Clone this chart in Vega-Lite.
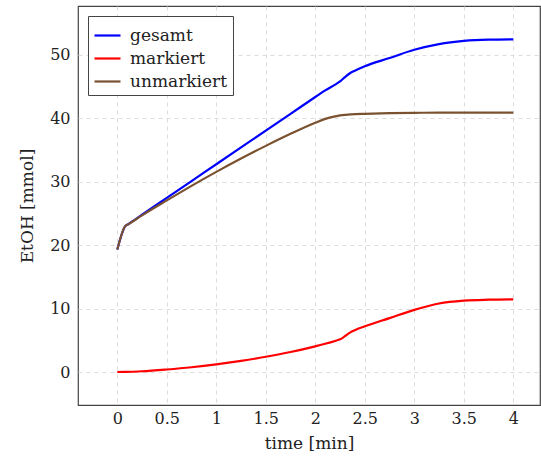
{
  "$schema": "https://vega.github.io/schema/vega-lite/v6.json",
  "width": 462,
  "height": 399,
  "autosize": "none",
  "padding": {"left": 78, "top": 6, "right": 1, "bottom": 57},
  "background": "white",
  "config": {
    "font": "DejaVu Serif",
    "view": {"stroke": "#444", "strokeWidth": 1.2},
    "axis": {
      "domain": false,
      "ticks": false,
      "grid": true,
      "gridColor": "#dcdcdc",
      "gridDash": [4, 4],
      "gridWidth": 1,
      "labelFont": "DejaVu Serif",
      "labelFontSize": 16,
      "labelColor": "#222",
      "titleFont": "DejaVu Serif",
      "titleFontSize": 17,
      "titleFontWeight": "normal",
      "titleColor": "#222"
    }
  },
  "data": {
    "values": [
      {"t": 0, "s": "gesamt", "v": 19.3},
      {"t": 0.08, "s": "gesamt", "v": 23.0},
      {"t": 0.11, "s": "gesamt", "v": 23.3},
      {"t": 0.25, "s": "gesamt", "v": 24.8},
      {"t": 0.5, "s": "gesamt", "v": 27.45},
      {"t": 0.75, "s": "gesamt", "v": 30.1},
      {"t": 1, "s": "gesamt", "v": 32.75},
      {"t": 1.25, "s": "gesamt", "v": 35.4},
      {"t": 1.5, "s": "gesamt", "v": 38.05},
      {"t": 1.75, "s": "gesamt", "v": 40.7},
      {"t": 2, "s": "gesamt", "v": 43.35},
      {"t": 2.1, "s": "gesamt", "v": 44.4},
      {"t": 2.2, "s": "gesamt", "v": 45.3},
      {"t": 2.25, "s": "gesamt", "v": 45.8},
      {"t": 2.3, "s": "gesamt", "v": 46.5},
      {"t": 2.35, "s": "gesamt", "v": 47.1},
      {"t": 2.4, "s": "gesamt", "v": 47.5},
      {"t": 2.5, "s": "gesamt", "v": 48.2},
      {"t": 2.75, "s": "gesamt", "v": 49.5},
      {"t": 3, "s": "gesamt", "v": 50.8},
      {"t": 3.25, "s": "gesamt", "v": 51.7},
      {"t": 3.5, "s": "gesamt", "v": 52.2},
      {"t": 3.75, "s": "gesamt", "v": 52.4},
      {"t": 4, "s": "gesamt", "v": 52.45},
      {"t": 0, "s": "markiert", "v": 0},
      {"t": 0.08, "s": "markiert", "v": 0.02},
      {"t": 0.25, "s": "markiert", "v": 0.12},
      {"t": 0.5, "s": "markiert", "v": 0.4},
      {"t": 0.75, "s": "markiert", "v": 0.75},
      {"t": 1, "s": "markiert", "v": 1.2},
      {"t": 1.25, "s": "markiert", "v": 1.75},
      {"t": 1.5, "s": "markiert", "v": 2.4},
      {"t": 1.75, "s": "markiert", "v": 3.15},
      {"t": 2, "s": "markiert", "v": 4.05},
      {"t": 2.1, "s": "markiert", "v": 4.45},
      {"t": 2.2, "s": "markiert", "v": 4.9},
      {"t": 2.25, "s": "markiert", "v": 5.15},
      {"t": 2.3, "s": "markiert", "v": 5.65},
      {"t": 2.35, "s": "markiert", "v": 6.2},
      {"t": 2.4, "s": "markiert", "v": 6.6},
      {"t": 2.5, "s": "markiert", "v": 7.2},
      {"t": 2.75, "s": "markiert", "v": 8.5},
      {"t": 3, "s": "markiert", "v": 9.8},
      {"t": 3.25, "s": "markiert", "v": 10.8},
      {"t": 3.5, "s": "markiert", "v": 11.25},
      {"t": 3.75, "s": "markiert", "v": 11.4},
      {"t": 4, "s": "markiert", "v": 11.45},
      {"t": 0, "s": "unmarkiert", "v": 19.3},
      {"t": 0.08, "s": "unmarkiert", "v": 23.0},
      {"t": 0.11, "s": "unmarkiert", "v": 23.28},
      {"t": 0.25, "s": "unmarkiert", "v": 24.7},
      {"t": 0.5, "s": "unmarkiert", "v": 27.05},
      {"t": 0.75, "s": "unmarkiert", "v": 29.35},
      {"t": 1, "s": "unmarkiert", "v": 31.55},
      {"t": 1.25, "s": "unmarkiert", "v": 33.65},
      {"t": 1.5, "s": "unmarkiert", "v": 35.65},
      {"t": 1.75, "s": "unmarkiert", "v": 37.55},
      {"t": 2, "s": "unmarkiert", "v": 39.3},
      {"t": 2.1, "s": "unmarkiert", "v": 39.9},
      {"t": 2.2, "s": "unmarkiert", "v": 40.3},
      {"t": 2.25, "s": "unmarkiert", "v": 40.45},
      {"t": 2.3, "s": "unmarkiert", "v": 40.55},
      {"t": 2.35, "s": "unmarkiert", "v": 40.6},
      {"t": 2.4, "s": "unmarkiert", "v": 40.65},
      {"t": 2.5, "s": "unmarkiert", "v": 40.7},
      {"t": 2.75, "s": "unmarkiert", "v": 40.8},
      {"t": 3, "s": "unmarkiert", "v": 40.85},
      {"t": 3.25, "s": "unmarkiert", "v": 40.9},
      {"t": 3.5, "s": "unmarkiert", "v": 40.9},
      {"t": 3.75, "s": "unmarkiert", "v": 40.9},
      {"t": 4, "s": "unmarkiert", "v": 40.9}
    ]
  },
  "mark": {"type": "line", "strokeWidth": 2.2, "interpolate": "monotone", "clip": true},
  "encoding": {
    "x": {
      "field": "t",
      "type": "quantitative",
      "title": "time [min]",
      "scale": {"domain": [-0.397, 4.27], "nice": false, "zero": false},
      "axis": {"values": [0, 0.5, 1, 1.5, 2, 2.5, 3, 3.5, 4], "format": "~g", "labelPadding": 5, "titlePadding": 9}
    },
    "y": {
      "field": "v",
      "type": "quantitative",
      "title": "EtOH [mmol]",
      "scale": {"domain": [-5.2, 57.7], "nice": false, "zero": false},
      "axis": {"values": [0, 10, 20, 30, 40, 50], "labelPadding": 8, "titlePadding": 13}
    },
    "color": {
      "field": "s",
      "type": "nominal",
      "scale": {"domain": ["gesamt", "markiert", "unmarkiert"], "range": ["#0000ff", "#ff0000", "#7a5230"]},
      "legend": {
        "title": null,
        "orient": "top-left",
        "offset": 10,
        "symbolType": "stroke",
        "symbolSize": 676,
        "symbolStrokeWidth": 2.2,
        "labelFont": "DejaVu Serif",
        "labelFontSize": 17,
        "labelColor": "#222",
        "labelOffset": 8,
        "rowPadding": 0,
        "padding": 5,
        "strokeColor": "#444",
        "fillColor": "white",
        "cornerRadius": 0
      }
    }
  }
}
